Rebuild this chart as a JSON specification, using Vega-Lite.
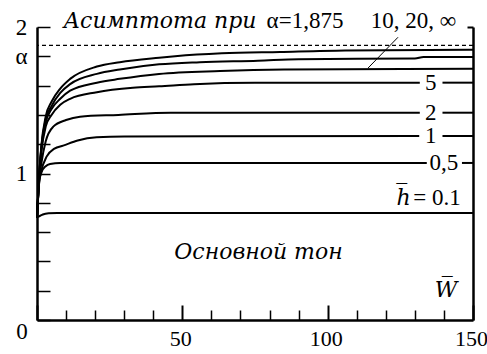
{
  "$schema": "https://vega.github.io/schema/vega-lite/v6.json",
  "width": 436,
  "height": 293,
  "autosize": {"type": "none"},
  "padding": {"left": 37, "top": 27, "right": 14, "bottom": 34},
  "background": "white",
  "config": {
    "view": {"stroke": null},
    "font": "Liberation Serif",
    "axis": {"grid": false, "title": null, "domainColor": "black", "tickColor": "black", "labelColor": "black", "labelFont": "Liberation Serif"}
  },
  "datasets": {
    "curves": [
      {"s": "01", "x": 0, "y": 0.70}, {"s": "01", "x": 1, "y": 0.71}, {"s": "01", "x": 2, "y": 0.72}, {"s": "01", "x": 4, "y": 0.728}, {"s": "01", "x": 7, "y": 0.73}, {"s": "01", "x": 150, "y": 0.73},
      {"s": "05a", "x": 0, "y": 0.70}, {"s": "05a", "x": 0.8, "y": 0.95}, {"s": "05a", "x": 1.6, "y": 1.01}, {"s": "05a", "x": 3, "y": 1.05}, {"s": "05a", "x": 4.5, "y": 1.065}, {"s": "05a", "x": 8, "y": 1.072}, {"s": "05a", "x": 134.1, "y": 1.072},
      {"s": "05b", "x": 146.2, "y": 1.072}, {"s": "05b", "x": 150, "y": 1.072},
      {"s": "1a", "x": 0, "y": 0.70}, {"s": "1a", "x": 0.8, "y": 0.95}, {"s": "1a", "x": 1.5, "y": 1.02}, {"s": "1a", "x": 3.3, "y": 1.115}, {"s": "1a", "x": 6, "y": 1.17}, {"s": "1a", "x": 9, "y": 1.19}, {"s": "1a", "x": 14, "y": 1.225}, {"s": "1a", "x": 20.5, "y": 1.247}, {"s": "1a", "x": 30, "y": 1.253}, {"s": "1a", "x": 131.5, "y": 1.256},
      {"s": "1b", "x": 139.5, "y": 1.256}, {"s": "1b", "x": 150, "y": 1.256},
      {"s": "2a", "x": 0, "y": 0.70}, {"s": "2a", "x": 0.8, "y": 0.97}, {"s": "2a", "x": 1.5, "y": 1.07}, {"s": "2a", "x": 3, "y": 1.22}, {"s": "2a", "x": 5.6, "y": 1.32}, {"s": "2a", "x": 10, "y": 1.365}, {"s": "2a", "x": 14.8, "y": 1.388}, {"s": "2a", "x": 28, "y": 1.40}, {"s": "2a", "x": 46, "y": 1.415}, {"s": "2a", "x": 131.7, "y": 1.415},
      {"s": "2b", "x": 139.5, "y": 1.415}, {"s": "2b", "x": 150, "y": 1.415},
      {"s": "5a", "x": 0, "y": 0.70}, {"s": "5a", "x": 0.8, "y": 1.0}, {"s": "5a", "x": 1.5, "y": 1.15}, {"s": "5a", "x": 3, "y": 1.32}, {"s": "5a", "x": 5, "y": 1.40}, {"s": "5a", "x": 8, "y": 1.47}, {"s": "5a", "x": 11.4, "y": 1.51}, {"s": "5a", "x": 20.6, "y": 1.555}, {"s": "5a", "x": 33, "y": 1.585}, {"s": "5a", "x": 42, "y": 1.595}, {"s": "5a", "x": 54, "y": 1.61}, {"s": "5a", "x": 75, "y": 1.62}, {"s": "5a", "x": 131.7, "y": 1.62},
      {"s": "5b", "x": 139.5, "y": 1.62}, {"s": "5b", "x": 150, "y": 1.62},
      {"s": "10", "x": 0, "y": 0.70}, {"s": "10", "x": 0.8, "y": 1.0}, {"s": "10", "x": 1.5, "y": 1.17}, {"s": "10", "x": 3, "y": 1.35}, {"s": "10", "x": 5, "y": 1.44}, {"s": "10", "x": 8, "y": 1.51}, {"s": "10", "x": 11.4, "y": 1.565}, {"s": "10", "x": 20.6, "y": 1.62}, {"s": "10", "x": 28.5, "y": 1.646}, {"s": "10", "x": 42, "y": 1.68}, {"s": "10", "x": 63, "y": 1.70}, {"s": "10", "x": 85, "y": 1.71}, {"s": "10", "x": 150, "y": 1.715},
      {"s": "20", "x": 0, "y": 0.70}, {"s": "20", "x": 0.8, "y": 1.0}, {"s": "20", "x": 1.5, "y": 1.18}, {"s": "20", "x": 3, "y": 1.37}, {"s": "20", "x": 5, "y": 1.46}, {"s": "20", "x": 8, "y": 1.55}, {"s": "20", "x": 11.4, "y": 1.61}, {"s": "20", "x": 20.6, "y": 1.68}, {"s": "20", "x": 28.5, "y": 1.71}, {"s": "20", "x": 42, "y": 1.745}, {"s": "20", "x": 56, "y": 1.76}, {"s": "20", "x": 76, "y": 1.77}, {"s": "20", "x": 90, "y": 1.78}, {"s": "20", "x": 130, "y": 1.785}, {"s": "20", "x": 133, "y": 1.795}, {"s": "20", "x": 150, "y": 1.795},
      {"s": "inf", "x": 0, "y": 0.70}, {"s": "inf", "x": 0.8, "y": 1.0}, {"s": "inf", "x": 1.5, "y": 1.19}, {"s": "inf", "x": 3, "y": 1.39}, {"s": "inf", "x": 5, "y": 1.49}, {"s": "inf", "x": 8, "y": 1.58}, {"s": "inf", "x": 11.4, "y": 1.646}, {"s": "inf", "x": 20.6, "y": 1.73}, {"s": "inf", "x": 28.5, "y": 1.76}, {"s": "inf", "x": 42, "y": 1.79}, {"s": "inf", "x": 47.5, "y": 1.80}, {"s": "inf", "x": 63.6, "y": 1.82}, {"s": "inf", "x": 83.6, "y": 1.83}, {"s": "inf", "x": 106, "y": 1.84}, {"s": "inf", "x": 150, "y": 1.845}
    ],
    "asymptote": [{"y": 1.875}],
    "leader": [{"x": 124.2, "y": 1.93, "x2": 113.9, "y2": 1.72}],
    "upright": [
      {"x": 92.2, "y": 2.041, "t": "α=1,875"},
      {"x": 129.5, "y": 2.041, "t": "10, 20, ∞"},
      {"x": 135.5, "y": 1.62, "t": "5"},
      {"x": 135.5, "y": 1.415, "t": "2"},
      {"x": 135.5, "y": 1.256, "t": "1"},
      {"x": 140, "y": 1.072, "t": "0,5"},
      {"x": 137.6, "y": 0.833, "t": "= 0.1"},
      {"x": -5.2, "y": -0.082, "t": "0"}
    ],
    "italic": [
      {"x": 42.3, "y": 2.041, "t": "Асимптота при"},
      {"x": 76.2, "y": 0.463, "t": "Основной тон"},
      {"x": 140.7, "y": 0.204, "t": "W̅"},
      {"x": 126.1, "y": 0.833, "t": "h̅"}
    ]
  },
  "resolve": {"axis": {"x": "independent", "y": "independent"}},
  "layer": [
    {
      "data": {"name": "curves"},
      "mark": {"type": "line", "color": "black", "strokeWidth": 2, "interpolate": "monotone"},
      "encoding": {
        "x": {"field": "x", "type": "quantitative", "scale": {"domain": [0, 150], "nice": false, "zero": false},
          "axis": {"orient": "bottom", "values": [0, 50, 100, 150], "tickSize": -15, "tickWidth": 2, "domainWidth": 2.5, "labelFontSize": 22, "labelPadding": 23, "labelOffset": -2, "labelExpr": "datum.value == 0 ? '' : datum.label", "labelFlush": false, "labelOverlap": false}},
        "y": {"field": "y", "type": "quantitative", "scale": {"domain": [0, 2], "nice": false, "zero": false},
          "axis": {"orient": "left", "values": [0, 0.2, 0.4, 0.6, 0.8, 1, 1.2, 1.4, 1.6, 1.8, 2], "tickSize": -13, "tickWidth": 1.5, "domainWidth": 2.5, "labelFontSize": 23, "labelPadding": 29, "labelAlign": "center", "labelBaseline": "middle", "labelExpr": "datum.value == 1 ? '1' : (datum.value == 1.8 ? 'α' : (datum.value == 2 ? '2' : ''))", "labelFlush": false, "labelOverlap": false}},
        "detail": {"field": "s"}
      }
    },
    {
      "data": {"name": "leader"},
      "mark": {"type": "rule", "color": "black", "strokeWidth": 1},
      "encoding": {
        "x": {"field": "x", "type": "quantitative",
          "axis": {"orient": "bottom", "values": [10, 20, 30, 40, 60, 70, 80, 90, 110, 120, 130, 140], "tickSize": -10, "tickWidth": 1.5, "domain": false, "labels": false}},
        "y": {"field": "y", "type": "quantitative",
          "axis": {"orient": "right", "values": [2], "tickSize": -6, "tickWidth": 2, "domainWidth": 2.5, "labels": false}},
        "x2": {"field": "x2"},
        "y2": {"field": "y2"}
      }
    },
    {
      "data": {"name": "asymptote"},
      "mark": {"type": "rule", "color": "black", "strokeWidth": 1.2, "strokeDash": [4, 3]},
      "encoding": {"y": {"field": "y", "type": "quantitative", "axis": null}}
    },
    {
      "data": {"name": "upright"},
      "mark": {"type": "text", "font": "Liberation Serif", "fontSize": 23, "align": "center", "baseline": "middle", "color": "black"},
      "encoding": {
        "x": {"field": "x", "type": "quantitative", "axis": null},
        "y": {"field": "y", "type": "quantitative", "axis": null},
        "text": {"field": "t"}
      }
    },
    {
      "data": {"name": "italic"},
      "mark": {"type": "text", "font": "DejaVu Serif", "fontStyle": "italic", "fontSize": 22, "align": "center", "baseline": "middle", "color": "black"},
      "encoding": {
        "x": {"field": "x", "type": "quantitative", "axis": null},
        "y": {"field": "y", "type": "quantitative", "axis": null},
        "text": {"field": "t"}
      }
    }
  ]
}
